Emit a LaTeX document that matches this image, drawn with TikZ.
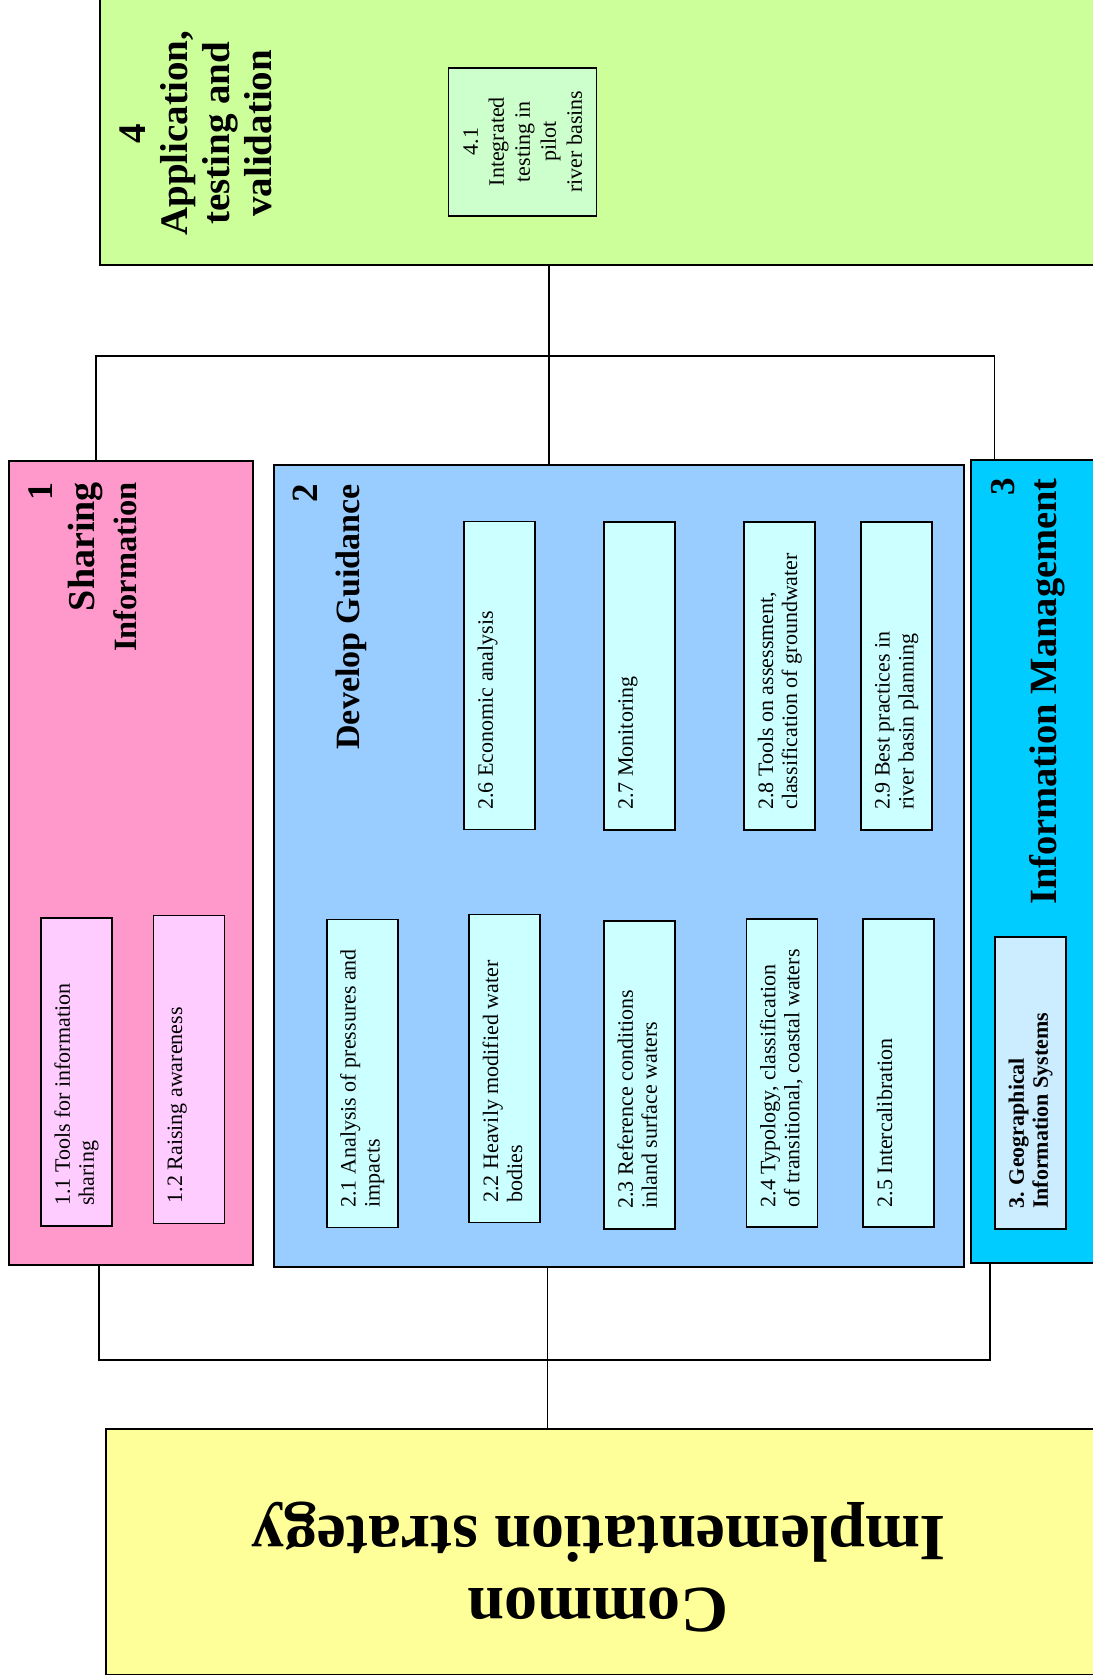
\documentclass[tikz,border=0pt]{standalone}
\usepackage{fontspec}
\setmainfont{Liberation Serif}
\definecolor{applgreen}{RGB}{204,255,153}
\definecolor{pilotgreen}{RGB}{204,255,204}
\definecolor{sharepink}{RGB}{255,153,204}
\definecolor{sharesub}{RGB}{255,204,255}
\definecolor{guideblue}{RGB}{153,204,255}
\definecolor{guidesub}{RGB}{204,255,255}
\definecolor{infocyan}{RGB}{0,204,255}
\definecolor{infosub}{RGB}{204,236,255}
\definecolor{cisyellow}{RGB}{255,255,153}
\newcommand{\subfont}{\fontsize{22}{24}\selectfont}
\newcommand{\headfont}{\fontsize{39}{42}\selectfont\bfseries}
\newcommand{\subtext}[2][308]{\parbox[c][71pt][t]{#1pt}{\raggedright\leftskip=20pt\vspace*{12pt}\strut #2}}

\begin{document}
\begin{tikzpicture}[
		x=1pt, y=-1pt,
		bigbox/.style={shape=rectangle, draw=black, line width=2pt, inner sep=0pt},
		subbox/.style={shape=rectangle, draw=black, line width=1.7pt, inner sep=0pt, rotate=90, font=\subfont},
		headtext/.style={rotate=90, inner sep=0pt, font=\headfont},
		link/.style={draw=black, line width=1.6pt}
		]
		\useasboundingbox (0,0) rectangle (1092,1675);
		% main blocks
		\node[bigbox, fill=applgreen, anchor=south west, minimum width=1010pt, minimum height=285pt] (box4) at (99,265.7) {};
		\node[bigbox, fill=sharepink, anchor=north west, minimum width=243.4pt, minimum height=803.8pt] (box1) at (8.2,460.2) {};
		\node[bigbox, fill=guideblue, anchor=north west, minimum width=690.7pt, minimum height=801.5pt] (box2) at (272.5,464.3) {};
		\node[bigbox, fill=infocyan, anchor=north west, minimum width=140pt, minimum height=802.5pt] (box3) at (970.2,459.2) {};
		\node[bigbox, fill=cisyellow, anchor=north west, minimum width=1000pt, minimum height=245.5pt] (box5) at (104.5,1428.2) {};
		% headings
		\node[headtext, anchor=north, align=center] (head4) at (119.5,133.3) {4\\Application,\\testing and\\validation};
		\node[headtext, anchor=north east, align=right] (head1) at (29,482) {\fontsize{36}{42}\selectfont 1\\\fontsize{38}{42}\selectfont Sharing\\\fontsize{32.5}{42}\selectfont Information};
		\node[headtext, anchor=north east, align=right] (head2) at (293,484) {\fontsize{37}{38}\selectfont 2\\\fontsize{34}{38}\selectfont Develop Guidance};
		\node[headtext, anchor=north east, align=right] (head3) at (991.5,478) {\fontsize{35}{43}\selectfont 3\\\fontsize{38.5}{43}\selectfont Information Management};
		\node[rotate=180, inner sep=0pt, align=center, font={\fontsize{66}{72}\selectfont\bfseries}] (cistext) at (598.4,1567.5) {Common\\Implementation strategy};
		% work items
		\node[subbox, fill=pilotgreen, minimum width=148pt, minimum height=148pt, align=center, font={\fontsize{22}{26}\selectfont}] (t41) at (522.6,141.7) {4.1\\Integrated\\testing in\\pilot\\river basins};
		\node[subbox, fill=sharesub] (t11) at (76.5,1071.7) {\subtext{1.1 Tools for information\\sharing}};
		\node[subbox, fill=sharesub] (t12) at (188.9,1069.4) {\subtext{1.2 Raising awareness}};
		\node[subbox, fill=guidesub] (t21) at (362.2,1073.5) {\subtext{2.1 Analysis of pressures and\\impacts}};
		\node[subbox, fill=guidesub] (t22) at (504.7,1068.5) {\subtext{2.2 Heavily modified water\\bodies}};
		\node[subbox, fill=guidesub] (t23) at (639.6,1074.9) {\subtext{2.3 Reference conditions\\inland surface waters}};
		\node[subbox, fill=guidesub] (t24) at (782,1073.2) {\subtext{2.4 Typology, classification\\of transitional, coastal waters}};
		\node[subbox, fill=guidesub] (t25) at (898.8,1073.2) {\subtext{2.5 Intercalibration}};
		\node[subbox, fill=guidesub] (t26) at (499.5,675.5) {\subtext{2.6 Economic analysis}};
		\node[subbox, fill=guidesub] (t27) at (639.6,675.7) {\subtext{2.7 Monitoring}};
		\node[subbox, fill=guidesub] (t28) at (779.8,675.7) {\subtext{2.8 Tools on assessment,\\classification of groundwater}};
		\node[subbox, fill=guidesub] (t29) at (896.4,675.7) {\subtext{2.9 Best practices in\\river basin planning}};
		\node[subbox, fill=infosub] (t3) at (1030.5,1082.9) {\subtext[292]{\bfseries 3. Geographical\\Information Systems}};
		% connectors
		\coordinate (uphub) at (548.7,356);
		\coordinate (upleft) at (96,356);
		\coordinate (upright) at (994.4,356);
		\coordinate (lowhub) at (547.4,1360);
		\coordinate (lowleft) at (99,1360);
		\coordinate (lowright) at (990,1360);
		\draw[link] (box4.south -| uphub) -- (box2.north -| uphub);
		\draw[link] (box1.north -| upleft) -- (upleft) -- (upright) -- (box3.north -| upright);
		\draw[link] (box1.south -| lowleft) -- (lowleft) -- (lowright) -- (box3.south -| lowright);
		\draw[link] (box2.south -| lowhub) -- (box5.north -| lowhub);
	\end{tikzpicture}
\end{document}
